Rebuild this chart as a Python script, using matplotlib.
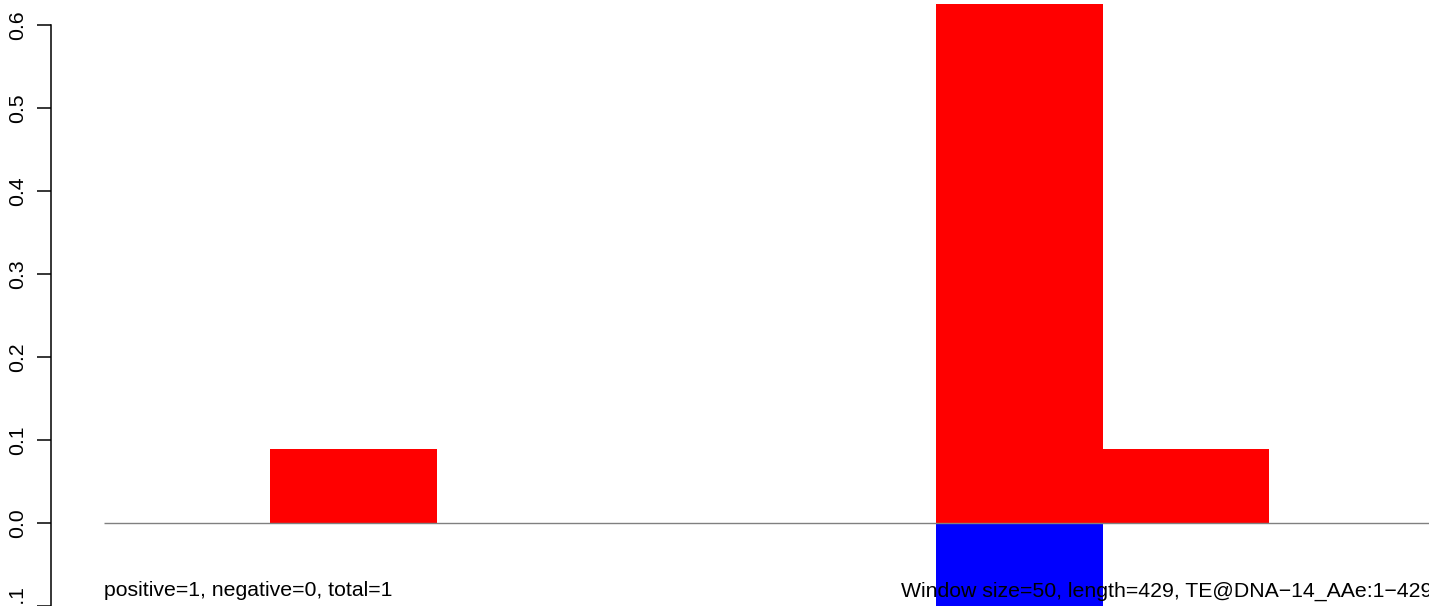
import numpy as np
import matplotlib.pyplot as plt

#資料 window size=50, length=429
window_size=50
seq_length=429
window_start=np.arange(0,seq_length,window_size)
pos_values=np.array([0,0.089,0,0,0,0.625,0.089,0,0])
neg_values=np.array([0,0,0,0,0,-0.1,0,0,0])
yticks=[-0.1,0.0,0.1,0.2,0.3,0.4,0.5,0.6]
left_text='positive=1, negative=0, total=1'
right_text='Window size=50, length=429, TE@DNA\u221214_AAe:1\u2212429'

plt.rcParams['font.family']=['Liberation Sans','DejaVu Sans']

W,H=1429,606
fig=plt.figure(figsize=(W/100,H/100),dpi=100)
ax=fig.add_axes([0,0,1,1])

#像素對應: x=0 在 103.5px, 每單位 3.33px ; y=0 在 526.7px, 每0.1為 83.6px
px_per_x=3.33
x0_px=103.5
ax.set_xlim(-x0_px/px_per_x,(W-x0_px)/px_per_x)
px_per_y=836.0
y0_px=526.7
ax.set_ylim(-(H-y0_px)/px_per_y,y0_px/px_per_y)

ax.bar(window_start,pos_values,width=window_size,align='edge',color='#ff0000',linewidth=0)
ax.bar(window_start,neg_values,width=window_size,align='edge',color='#0000ff',linewidth=0)
ax.hlines(0,0,seq_length,color='#808080',linewidth=1,zorder=3)

for s in ['top','right','bottom']:
    ax.spines[s].set_visible(False)
ax.spines['left'].set_position(('axes',51/W))
ax.spines['left'].set_bounds(-0.1,0.6)
ax.spines['left'].set_linewidth(1.1)
ax.set_xticks([])
ax.set_yticks(yticks)
ax.set_yticklabels(['\u22120.1' if v<0 else '%.1f'%v for v in yticks],rotation=90,va='center',ha='center',fontsize=15.3)
ax.tick_params(axis='y',length=10,width=1.1,pad=14)
ax.patch.set_visible(False)

ax.text(0,-0.0885,left_text,ha='left',va='baseline',fontsize=15.3,zorder=5)
ax.text((W+3-x0_px)/px_per_x,-0.0885,right_text,ha='right',va='baseline',fontsize=15.3,zorder=5)

fig.savefig('out.png',dpi=100)
